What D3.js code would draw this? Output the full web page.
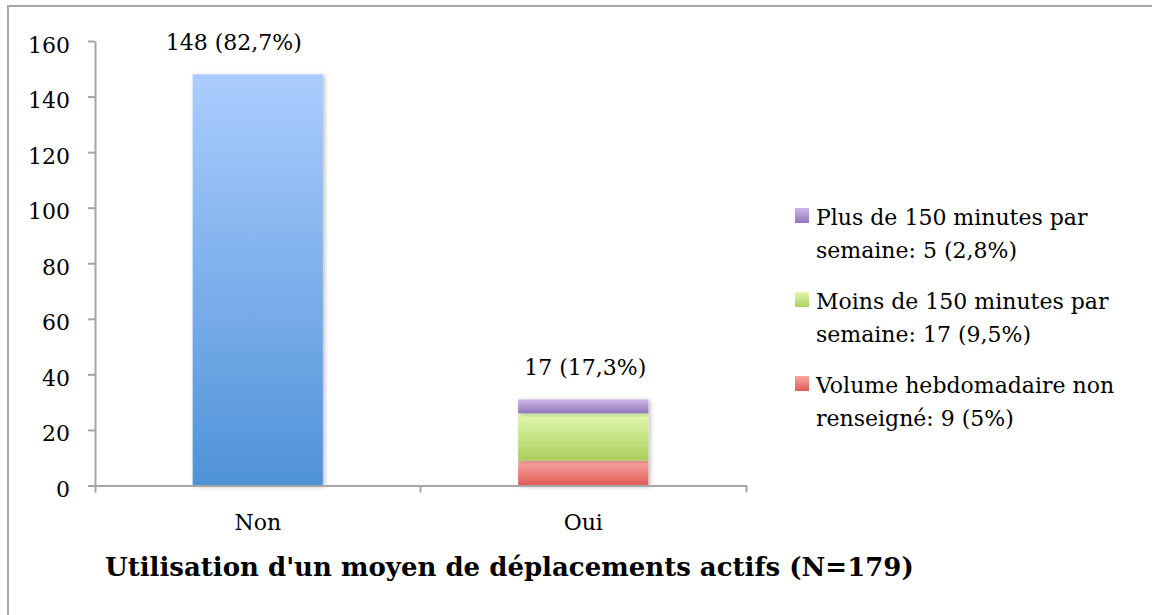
<!DOCTYPE html>
<html>
<head>
<meta charset="utf-8">
<script src="https://cdn.jsdelivr.net/npm/d3@7"></script>
<style>
    body { margin: 0; background: #fff; }
    svg text { font-family: "DejaVu Serif", serif; fill: #000; }
    .axis path, .axis line { stroke: #a6a6a6; stroke-width: 2; }
</style>
</head>
<body>
<div id="chart"></div>
<script>
// ------------------------------------------
//  Data
// ------------------------------------------
const categories = ["Non", "Oui"]
const totals = [148, 31]
const totalLabels = ["148 (82,7%)", "17 (17,3%)"]
const series = ["Volume hebdomadaire non renseigné", "Moins de 150 minutes par semaine", "Plus de 150 minutes par semaine"]
const ouiValues = [9, 17, 5]
const legendLines = [
    ["Plus de 150 minutes par", "semaine: 5 (2,8%)"],
    ["Moins de 150 minutes par", "semaine: 17 (9,5%)"],
    ["Volume hebdomadaire non", "renseigné: 9 (5%)"]
]
const yTicks = [0, 20, 40, 60, 80, 100, 120, 140, 160]
const title = "Utilisation d'un moyen de déplacements actifs (N=179)"

// gradient colours: [top, bottom]
const colors = {
    non: ["#abcdfe", "#4f93d8"],
    purple: ["#cdb8e8", "#9276b9"],
    green: ["#e2f9b0", "#abcf5c"],
    red: ["#faa8a4", "#dd5b55"]
}
const seriesColor = ["red", "green", "purple"]

// ------------------------------------------
//  Chart
// ------------------------------------------
function drawChart() {
    const W = 1152, H = 615
    const svg = d3.select("#chart").append("svg").attr("width", W).attr("height", H)
    const margin = { top: 41, left: 95, right: 406, bottom: 130 }
    const height = H - margin.top - margin.bottom

    const defs = svg.append("defs")
    Object.entries(colors).forEach(([k, c]) => {
        const lg = defs.append("linearGradient").attr("id", "g-" + k)
            .attr("x1", 0).attr("y1", 0).attr("x2", 0).attr("y2", 1)
        lg.append("stop").attr("offset", "0%").attr("stop-color", c[0])
        lg.append("stop").attr("offset", "100%").attr("stop-color", c[1])
    })
    defs.append("filter").attr("id", "shadow").attr("x", "-10%").attr("y", "-10%").attr("width", "130%").attr("height", "130%")
        .append("feDropShadow").attr("dx", 2).attr("dy", 1).attr("stdDeviation", 2)
        .attr("flood-color", "#000").attr("flood-opacity", 0.25)

    // outer frame (runs off the right and bottom edge)
    svg.append("rect").attr("x", 8).attr("y", 6).attr("width", W).attr("height", H)
        .attr("fill", "none").attr("stroke", "#a6a6a6").attr("stroke-width", 2)

    const g = svg.append("g").attr("transform", `translate(${margin.left},${margin.top})`)

    const x = d3.scaleBand().domain(categories).range([0, 651]).paddingInner(0.6).paddingOuter(0.3)
    const y = d3.scaleLinear().domain([0, 160]).range([height + 0.5, 0])

    // y axis
    const yAxis = g.append("g").attr("class", "axis")
        .call(d3.axisLeft(y).tickValues(yTicks).tickSize(7).tickSizeOuter(0).tickPadding(18))
    yAxis.selectAll("text").attr("font-size", 22).attr("dy", "0.5em")
        .style("font-family", "DejaVu Serif, serif")

    // bars
    g.append("rect")
        .attr("x", x("Non")).attr("width", x.bandwidth())
        .attr("y", y(totals[0])).attr("height", y(0) - y(totals[0]))
        .attr("fill", "url(#g-non)").attr("filter", "url(#shadow)")

    const stack = d3.stack().keys(d3.range(series.length))([ouiValues])
    g.selectAll(".seg").data(stack).enter().append("rect")
        .attr("class", "seg")
        .attr("x", x("Oui")).attr("width", x.bandwidth())
        .attr("y", d => y(d[0][1])).attr("height", d => y(d[0][0]) - y(d[0][1]))
        .attr("fill", (d, i) => `url(#g-${seriesColor[i]})`)
        .attr("filter", "url(#shadow)")

    // x axis
    const xAxis = g.append("g").attr("class", "axis").attr("transform", `translate(0,${y(0)})`)
        .call(d3.axisBottom(x).tickSize(0).tickSizeOuter(7).tickPadding(29))
    xAxis.selectAll("text").attr("font-size", 22).style("font-family", "DejaVu Serif, serif")
    xAxis.append("line").attr("x1", x.step()).attr("x2", x.step())
        .attr("y1", 0).attr("y2", 7)

    // total labels
    const labelShift = [-24, 2]
    g.selectAll(".total").data(totals).enter().append("text")
        .attr("class", "total")
        .attr("x", (d, i) => x(categories[i]) + x.bandwidth() / 2 + labelShift[i])
        .attr("y", d => y(d) - 24)
        .attr("text-anchor", "middle").attr("font-size", 22)
        .text((d, i) => totalLabels[i])

    // legend
    const legend = svg.append("g").attr("transform", "translate(795,208)")
    const item = legend.selectAll(".item").data(legendLines).enter().append("g")
        .attr("class", "item")
        .attr("transform", (d, i) => `translate(0,${i * 84})`)
    item.append("rect").attr("width", 14).attr("height", 15)
        .attr("fill", (d, i) => `url(#g-${seriesColor[2 - i]})`)
    item.selectAll("text").data(d => d).enter().append("text")
        .attr("x", 21).attr("y", (d, j) => 17 + j * 33)
        .attr("font-size", 22)
        .text(d => d)

    // title
    svg.append("text").attr("x", 105).attr("y", 576)
        .attr("font-size", 26).attr("font-weight", "bold")
        .text(title)
}

drawChart()
</script>
</body>
</html>
